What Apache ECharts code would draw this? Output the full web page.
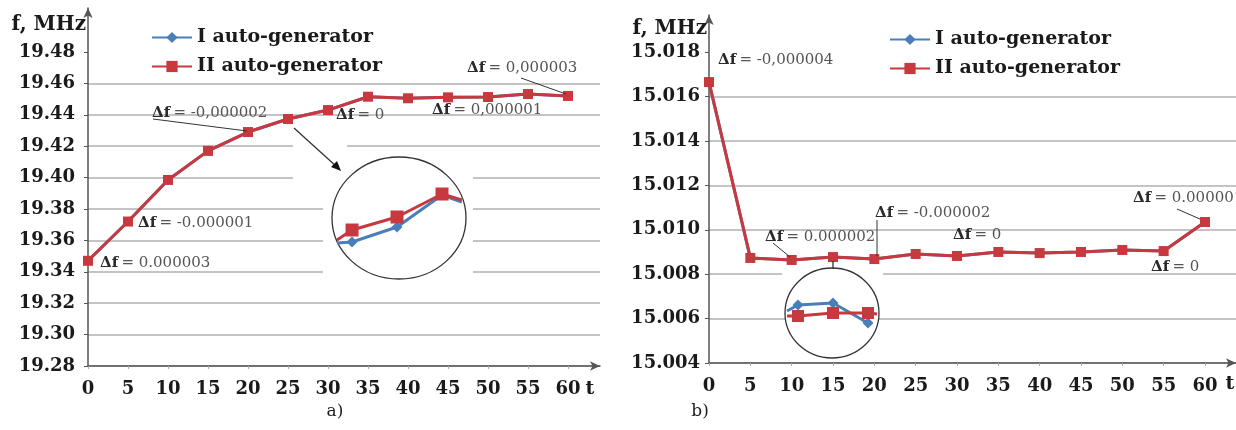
<!DOCTYPE html>
<html><head><meta charset="utf-8">
<script src="https://cdn.jsdelivr.net/npm/echarts@6/dist/echarts.min.js"></script>
<style>html,body{margin:0;padding:0;background:#fff}#c{width:1236px;height:430px}</style>
</head><body><div id="c"></div>
<script>
// ---- data ----
const tValues = [0,5,10,15,20,25,30,35,40,45,50,55,60];
const xTicks  = [0,5,10,15,20,25,30,35,40,45,50,55,60];
const yTicksA = [19.28,19.30,19.32,19.34,19.36,19.38,19.40,19.42,19.44,19.46,19.48];
const yTicksB = [15.004,15.006,15.008,15.010,15.012,15.014,15.016,15.018];
// chart a) frequency, MHz
const aGenI  = [19.347,19.372,19.3985,19.417,19.429,19.4373,19.443,19.4515,19.4505,19.4511,19.4513,19.4532,19.452];
const aGenII = [19.347,19.372,19.3985,19.417,19.429,19.4373,19.443,19.4515,19.4505,19.4511,19.4513,19.4532,19.452];
// chart b) frequency, MHz
const bGenI  = [15.01665,15.00873,15.00864,15.00877,15.00868,15.00891,15.00882,15.0090,15.00895,15.0090,15.00909,15.00904,15.01035];
const bGenII = [15.01665,15.00873,15.00864,15.00877,15.00868,15.00891,15.00882,15.0090,15.00895,15.0090,15.00909,15.00904,15.01035];
// magnified insets (arbitrary magnified units)
const insetA_t   = [28.33,30,35,40,42.2];
const insetA_I   = [3.7,3.8,5.3,8.5,7.8];
const insetA_II  = [4.0,5.0,6.3,8.6,8.0];
const insetB_t   = [8.43,10,15,20,21.3];
const insetB_I   = [4.75,6.25,6.75,1.75,null];
const insetB_II  = [3.5,3.5,4.25,4.25,4.0];
const seriesNames = ['I auto-generator','II auto-generator'];

const BLUE = '#4a7ebb', RED = '#c8383f';
const SERIF = 'DejaVu Serif';
const pairs = (xs, ys) => xs.map((x,i)=>[x, ys[i]]);
const insetPts = (xs, ys) => xs.map((x,i)=> (i===0||i===xs.length-1) ? {value:[x,ys[i]], symbol:'none'} : [x,ys[i]]).filter(d=>(Array.isArray(d)?d[1]:d.value[1])!==null);

const axisLineStyle = {show:true, lineStyle:{color:'#555', width:1.5}, symbol:['none','arrow'], symbolSize:[7,10]};
const tickLabel = {fontFamily:SERIF, fontWeight:'bold', fontSize:18, color:'#1a1a1a'};
const grid = {lineStyle:{color:'#c4c4c4', width:2}};

function xAx(idx, max){
  return {type:'value', gridIndex:idx, min:0, max:max, interval:5,
    axisLine:axisLineStyle,
    axisTick:{show:true, length:3, customValues:xTicks, lineStyle:{color:'#aaa'}},
    axisLabel:Object.assign({margin:14, customValues:xTicks, formatter:v=>String(v)}, tickLabel),
    splitLine:{show:false}};
}
function yAx(idx, min, max, step, dec, margin, ticks){
  return {type:'value', gridIndex:idx, min:min, max:max, interval:step,
    axisLine:axisLineStyle,
    axisTick:{show:true, length:4, customValues:ticks, lineStyle:{color:'#555'}},
    axisLabel:Object.assign({margin:margin, customValues:ticks, formatter:v=>v.toFixed(dec)}, tickLabel),
    splitLine:Object.assign({show:true, showMaxLine:false}, grid)};
}
function hid(idx, min, max){
  return {type:'value', gridIndex:idx, min:min, max:max, show:false, splitLine:{show:false}};
}

function ann(x, y, val){
  return {type:'text', x:x, y:y, z:20, style:{
    text:'{d|Δf} {v|= '+val+'}', textVerticalAlign:'middle',
    rich:{d:{fontFamily:SERIF, fontWeight:'bold', fontSize:15, fill:'#2a2a2a', color:'#2a2a2a'},
          v:{fontFamily:SERIF, fontSize:15, fill:'#555', color:'#555'}}}};
}
function seg(x1,y1,x2,y2,w){
  return {type:'line', z:20, shape:{x1,y1,x2,y2}, style:{stroke:'#333', lineWidth:w||1}};
}

const mainSeries = (name, data, xi, yi, color, sym, size, z) => ({
  name:name, type:'line', xAxisIndex:xi, yAxisIndex:yi, data:data, z:z,
  symbol:sym, symbolSize:size, showSymbol:true,
  lineStyle:{color:color, width:3}, itemStyle:{color:color}, animation:false});

const option = {
  animation:false,
  grid:[
    {left:88, top:8, width:512, height:358},
    {left:709, top:15, width:527, height:348},
    {left:337, top:160, width:125, height:120},
    {left:785, top:290, width:96, height:40}
  ],
  xAxis:[ xAx(0, 64), xAx(1, 63.75), hid(2, 28.33, 42.22), hid(3, 8.14, 21.86) ],
  yAxis:[ yAx(0, 19.28, 19.508, 0.02, 2, 13, yTicksA), yAx(1, 15.004, 15.01967, 0.002, 3, 9, yTicksB), hid(2, 0, 12), hid(3, 0, 10) ],
  legend:[
    {left:146, top:23, orient:'vertical', itemWidth:40, itemHeight:14, itemGap:10, data:seriesNames,
     textStyle:{fontFamily:SERIF, fontWeight:'bold', fontSize:19, color:'#1a1a1a', lineHeight:19}},
    {left:884, top:25, orient:'vertical', itemWidth:40, itemHeight:14, itemGap:10, data:seriesNames,
     textStyle:{fontFamily:SERIF, fontWeight:'bold', fontSize:19, color:'#1a1a1a', lineHeight:19}}
  ],
  series:[
    mainSeries(seriesNames[0], pairs(tValues,aGenI), 0,0, BLUE,'diamond',9,2),
    mainSeries(seriesNames[1], pairs(tValues,aGenII),0,0, RED,'rect',10,3),
    mainSeries(seriesNames[0], pairs(tValues,bGenI), 1,1, BLUE,'diamond',9,2),
    mainSeries(seriesNames[1], pairs(tValues,bGenII),1,1, RED,'rect',10,3),
    mainSeries(seriesNames[0], insetPts(insetA_t,insetA_I), 2,2, BLUE,'diamond',11,7),
    mainSeries(seriesNames[1], insetPts(insetA_t,insetA_II),2,2, RED,'rect',13,8),
    mainSeries(seriesNames[0], insetPts(insetB_t,insetB_I), 3,3, BLUE,'diamond',11,7),
    mainSeries(seriesNames[1], insetPts(insetB_t,insetB_II),3,3, RED,'rect',12,8)
  ],
  graphic:[
    // white patches behind the magnifier insets
    {type:'rect', z:1, shape:{x:293,y:138,width:54,height:48}, style:{fill:'#fff'}},
    {type:'rect', z:1, shape:{x:323,y:170,width:150,height:115}, style:{fill:'#fff'}},
    {type:'rect', z:1, shape:{x:782,y:264,width:101,height:40}, style:{fill:'#fff'}},
    {type:'ellipse', z:5, shape:{cx:399,cy:218,rx:67,ry:61}, style:{fill:'#fff', stroke:'#333', lineWidth:1.3}},
    {type:'ellipse', z:5, shape:{cx:832,cy:313,rx:47,ry:45}, style:{fill:'#fff', stroke:'#333', lineWidth:1.3}},
    // pointers
    seg(294,128,337,167,1.3),
    {type:'polygon', z:20, shape:{points:[[341,171],[331,167],[337,161]]}, style:{fill:'#111'}},
    seg(833,261,833,269,1.3),
    // axis names
    {type:'text', x:86, y:25, z:20, style:{text:'f, MHz', textAlign:'right', textVerticalAlign:'middle', font:'bold 20px "DejaVu Serif"', fill:'#1a1a1a'}},
    {type:'text', x:707, y:29, z:20, style:{text:'f, MHz', textAlign:'right', textVerticalAlign:'middle', font:'bold 20px "DejaVu Serif"', fill:'#1a1a1a'}},
    {type:'text', x:590, y:389, z:20, style:{text:'t', textAlign:'center', textVerticalAlign:'middle', font:'bold 19px "DejaVu Serif"', fill:'#1a1a1a'}},
    {type:'text', x:1230, y:384, z:20, style:{text:'t', textAlign:'center', textVerticalAlign:'middle', font:'bold 19px "DejaVu Serif"', fill:'#1a1a1a'}},
    // captions
    {type:'text', x:335, y:412, z:20, style:{text:'a)', textAlign:'center', textVerticalAlign:'middle', font:'17px "DejaVu Serif"', fill:'#1a1a1a'}},
    {type:'text', x:700, y:412, z:20, style:{text:'b)', textAlign:'center', textVerticalAlign:'middle', font:'17px "DejaVu Serif"', fill:'#1a1a1a'}},
    // annotations a)
    ann(100,263,'0.000003'),
    ann(138,223,'-0.000001'),
    ann(152,113,'-0,000002'), seg(153,119,247,131),
    ann(336,115,'0'),
    ann(432,110,'0,000001'),
    ann(467,68,'0,000003'), seg(521,78,566,94),
    // annotations b)
    ann(718,60,'-0,000004'),
    ann(765,237,'0.000002'), seg(773,243,790,257),
    ann(875,213,'-0.000002'), seg(877,220,877,256),
    ann(953,235,'0'),
    ann(1133,198,'0.000001'), seg(1177,209,1200,219),
    ann(1151,267,'0')
  ]
};
const chart = echarts.init(document.getElementById('c'), null, {renderer:'canvas'});
chart.setOption(option);
</script></body></html>
